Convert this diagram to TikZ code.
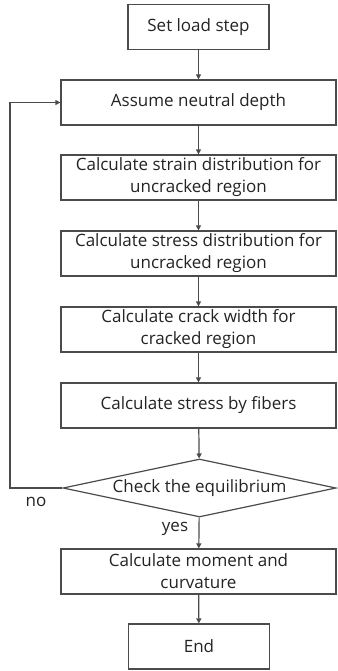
\documentclass[tikz,border=0pt]{standalone}
\usepackage{fontspec}
\setmainfont{Open Sans}
\usetikzlibrary{shapes.geometric,arrows.meta}
\definecolor{ln}{RGB}{75,75,75}
\definecolor{tx}{RGB}{35,35,35}
\begin{document}
\begin{tikzpicture}[x=1pt,y=-1pt,
  font=\fontsize{17}{22}\selectfont, text=tx,
  box/.style={draw=ln, line width=1.2pt, rectangle, inner sep=0pt, align=center,
    minimum width=275pt, minimum height=45pt},
  smallbox/.style={box, minimum width=141pt},
  dec/.style={draw=ln, line width=1.2pt, diamond, aspect=4.7, inner sep=0pt,
    minimum width=273pt, minimum height=58pt},
  conn/.style={draw=ln, line width=1.2pt, -{Triangle[length=5pt,width=5pt]}},
  lbl/.style={inner sep=0pt}]
\useasboundingbox (0,0) rectangle (337,671);
\node[smallbox] (b1) at (198.5,27) {Set load step};
\node[box] (b2) at (198.5,102.5) {Assume neutral depth};
\node[box] (b3) at (198.5,177.5) {Calculate strain distribution for\\uncracked region};
\node[box] (b4) at (198.5,253.5) {Calculate stress distribution for\\uncracked region};
\node[box] (b5) at (198.5,329.5) {Calculate crack width for\\cracked region};
\node[box] (b6) at (198.5,405.5) {Calculate stress by fibers};
\node[dec] (d) at (199.5,488) {Check the equilibrium};
\node[box] (b7) at (198.5,571.5) {Calculate moment and\\curvature};
\node[smallbox] (b8) at (199,646.5) {End};
\coordinate (fb) at (10,488);
\draw[conn] (b1) -- (b2);
\draw[conn] (b2) -- (b3);
\draw[conn] (b3) -- (b4);
\draw[conn] (b4) -- (b5);
\draw[conn] (b5) -- (b6);
\draw[conn] (b6) -- (d);
\draw[conn] (d) -- (b7);
\draw[conn] (b7) -- (b8);
\draw[conn] (d.west) -- (fb) |- (b2.west);
\node[lbl] (no) at (36,502) {no};
\node[lbl] (yes) at (175,529) {yes};
\end{tikzpicture}
\end{document}
